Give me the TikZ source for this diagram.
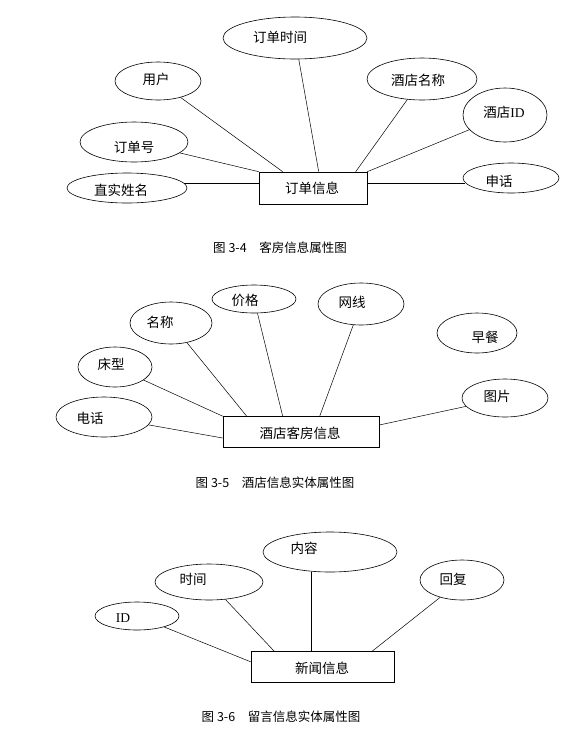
\documentclass[tikz,border=0pt]{standalone}
\usepackage{fontspec}
\newfontfamily\cjk{Noto Sans CJK SC}
\newfontfamily\serifid{Liberation Serif}
\usetikzlibrary{shapes.geometric}
\begin{document}
\begin{tikzpicture}[x=1pt,y=-1pt,
  attr/.style={ellipse,draw,line width=0.6pt,inner sep=0pt},
  ent/.style={rectangle,draw,line width=0.6pt,inner sep=0pt},
  lbl/.style={font=\cjk\fontsize{13.5}{14}\selectfont,inner sep=0pt},
  figcaption/.style={font=\cjk\fontsize{12.5}{13}\selectfont,inner sep=0pt},
  conn/.style={line width=0.5pt}]
\useasboundingbox[fill=white] (0,0) rectangle (565,748);

% ---------- Figure 3-4 ----------
\node[ent,minimum width=108pt,minimum height=32pt] (r1) at (313,188) {};
\node[attr,minimum width=144pt,minimum height=42pt] (e1a) at (295,38) {};
\node[attr,minimum width=86pt,minimum height=38pt] (e1b) at (158,81) {};
\node[attr,minimum width=110pt,minimum height=42pt] (e1c) at (422,79) {};
\node[attr,minimum width=84pt,minimum height=54pt] (e1d) at (505,115) {};
\node[attr,minimum width=108pt,minimum height=40pt] (e1e) at (134,142) {};
\node[attr,minimum width=120pt,minimum height=30pt] (e1f) at (127,188) {};
\node[attr,minimum width=96pt,minimum height=30pt] (e1g) at (511,178) {};

\node[lbl] (t1r) at (312,188) {订单信息};
\node[lbl] (t1a) at (280,37) {订单时间};
\node[lbl] (t1b) at (156,79) {用户};
\node[lbl] (t1c) at (418,80) {酒店名称};
\node[lbl] (t1d) at (504,112) {酒店{\serifid ID}};
\node[lbl] (t1e) at (134,147) {订单号};
\node[lbl] (t1f) at (121,190) {直实姓名};
\node[lbl] (t1g) at (499,181) {申话};

\coordinate (p1b) at ([xshift=24pt]r1.north west);
\coordinate (p1a) at ([xshift=60pt]r1.north west);
\coordinate (p1c) at ([xshift=97pt]r1.north west);
\draw[conn] (p1b) -- (e1b);
\draw[conn] (p1a) -- (e1a);
\draw[conn] (p1c) -- (e1c);
\draw[conn] (r1.north east) -- (e1d);
\draw[conn] (r1.north west) -- (e1e);
\draw[conn] (e1f.5) -- (e1f.5 -| r1.west);
\draw[conn] (e1g.186) -- (e1g.186 -| r1.east);

\node[figcaption] (c1) at (280,248) {图 3-4\quad 客房信息属性图};

% ---------- Figure 3-5 ----------
\node[ent,minimum width=156pt,minimum height=31pt] (r2) at (301,432) {};
\node[attr,minimum width=84pt,minimum height=28pt] (e2a) at (254,299) {};
\node[attr,minimum width=86pt,minimum height=42pt] (e2b) at (361,304) {};
\node[attr,minimum width=82pt,minimum height=42pt] (e2c) at (171,323) {};
\node[attr,minimum width=74pt,minimum height=40pt] (e2d) at (115,367) {};
\node[attr,minimum width=96pt,minimum height=40pt] (e2e) at (104,417) {};
\node[attr,minimum width=80pt,minimum height=40pt] (e2f) at (477,333) {};
\node[attr,minimum width=86pt,minimum height=38pt] (e2g) at (505,398) {};

\node[lbl] (t2r) at (300,433) {酒店客房信息};
\node[lbl] (t2a) at (245,300) {价格};
\node[lbl] (t2b) at (352,302) {网线};
\node[lbl] (t2c) at (160,322) {名称};
\node[lbl] (t2d) at (111,364) {床型};
\node[lbl] (t2e) at (90,418) {电话};
\node[lbl] (t2f) at (485,337) {早餐};
\node[lbl] (t2g) at (497,396) {图片};

\coordinate (p2c) at ([xshift=24pt]r2.north west);
\coordinate (p2a) at ([xshift=60pt]r2.north west);
\coordinate (p2b) at ([xshift=97pt]r2.north west);
\coordinate (p2e) at ([yshift=-6pt]r2.west);
\coordinate (p2g) at ([yshift=7pt]r2.east);
\draw[conn] (p2c) -- (e2c);
\draw[conn] (r2.north west) -- (e2d);
\draw[conn] (p2e) -- (e2e);
\draw[conn] (p2a) -- (e2a);
\draw[conn] (p2b) -- (e2b);
\draw[conn] (p2g) -- (e2g);

\node[figcaption] (c2) at (275,483) {图 3-5\quad 酒店信息实体属性图};

% ---------- Figure 3-6 ----------
\node[ent,minimum width=143pt,minimum height=31pt] (r3) at (323,667) {};
\node[attr,minimum width=134pt,minimum height=40pt] (e3a) at (330,552) {};
\node[attr,minimum width=108pt,minimum height=36pt] (e3b) at (209,582) {};
\node[attr,minimum width=84pt,minimum height=28pt] (e3c) at (137,616) {};
\node[attr,minimum width=84pt,minimum height=40pt] (e3d) at (462,580) {};

\node[lbl] (t3r) at (322,668) {新闻信息};
\node[lbl] (t3a) at (304,548) {内容};
\node[lbl] (t3b) at (193,579) {时间};
\node[lbl,font=\serifid\fontsize{13.5}{14}\selectfont] (t3c) at (123,618) {ID};
\node[lbl] (t3d) at (453,579) {回复};

\coordinate (p3b) at ([xshift=23pt]r3.north west);
\coordinate (p3a) at ([xshift=60pt]r3.north west);
\coordinate (p3d) at ([xshift=121pt]r3.north west);
\coordinate (p3c) at ([yshift=5pt]r3.west);
\draw[conn] (p3c) -- (e3c);
\draw[conn] (p3b) -- (e3b);
\draw[conn] (p3a) -- (p3a |- e3a.south);
\draw[conn] (p3d) -- (e3d);

\node[figcaption] (c3) at (281,717) {图 3-6\quad 留言信息实体属性图};
\end{tikzpicture}
\end{document}
